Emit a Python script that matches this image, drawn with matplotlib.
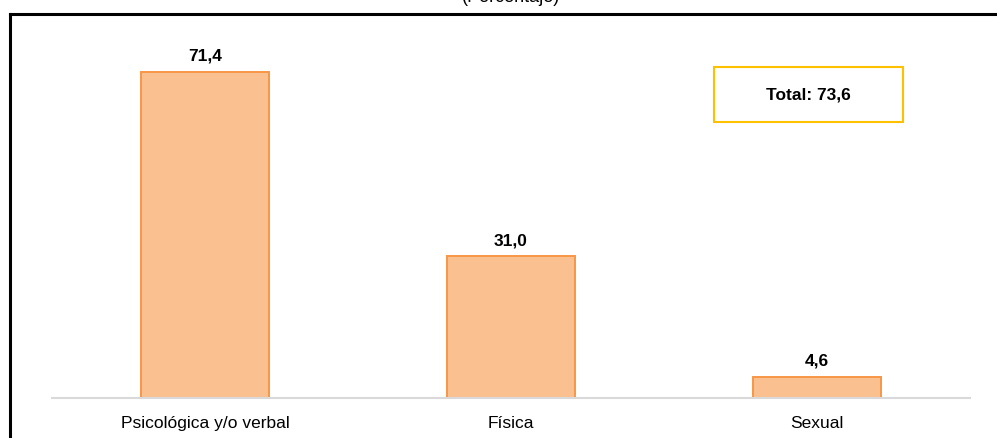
import matplotlib
matplotlib.use("Agg")
import matplotlib.pyplot as plt
from matplotlib import font_manager as fm
from matplotlib.patches import Rectangle
from matplotlib.lines import Line2D

categories = ["Psicológica y/o verbal", "Física", "Sexual"]
values = [71.4, 31.0, 4.6]
value_labels = ["71,4", "31,0", "4,6"]
total_label = "Total: 73,6"
title = "(Porcentaje)"

names = {f.name for f in fm.fontManager.ttflist}
fam = ["Liberation Sans Narrow"] if "Liberation Sans Narrow" in names else ["Liberation Sans"]
plt.rcParams['font.family'] = fam + ["DejaVu Sans"]

W, H = 997, 438
fig = plt.figure(figsize=(W / 100, H / 100), dpi=100)

def fx(px):
    return px / W

def fy(py):
    return 1 - py / H

ax = fig.add_axes([fx(52), fy(398), fx(970) - fx(52), fy(20) - fy(398)])
x = list(range(len(categories)))
ax.bar(x, values, width=0.42, color="#FAC090", edgecolor="#F79646", linewidth=1.4, zorder=2)
ax.set_xlim(-0.5, 2.5)
ax.set_ylim(0, (398 - 20) / 4.566)
for s in ["top", "right", "left"]:
    ax.spines[s].set_visible(False)
ax.spines["bottom"].set_color("#D9D9D9")
ax.spines["bottom"].set_linewidth(1.5)
ax.set_yticks([])
ax.set_xticks(x)
ax.set_xticklabels(categories, fontsize=12.5, color="#000000")
ax.tick_params(axis="x", length=0, pad=13)

for xi, v, lab in zip(x, values, value_labels):
    ax.annotate(lab, (xi, v), xytext=(0, 6), textcoords="offset points",
                ha="center", va="bottom", fontsize=12.5, fontweight="bold")

# Outer frame (top and left, partially cropped)
fig.add_artist(Line2D([fx(10), 1.0], [fy(14), fy(14)], color="black", lw=2.2, transform=fig.transFigure))
fig.add_artist(Line2D([fx(10), fx(10)], [fy(14), 0.0], color="black", lw=2.2, transform=fig.transFigure))

# Title cropped at the top, as in the reference
fig.text(fx(511), fy(2), title, ha="center", va="baseline", fontsize=13)

# Total box
fig.add_artist(Rectangle((fx(714), fy(122)), fx(903) - fx(714), fy(67) - fy(122),
                         transform=fig.transFigure, fill=True, facecolor="white",
                         edgecolor="#FFC000", lw=1.5))
fig.text(fx(808.5), fy(95), total_label, ha="center", va="center", fontsize=12.5, fontweight="bold")

fig.savefig("out.png", dpi=100)
